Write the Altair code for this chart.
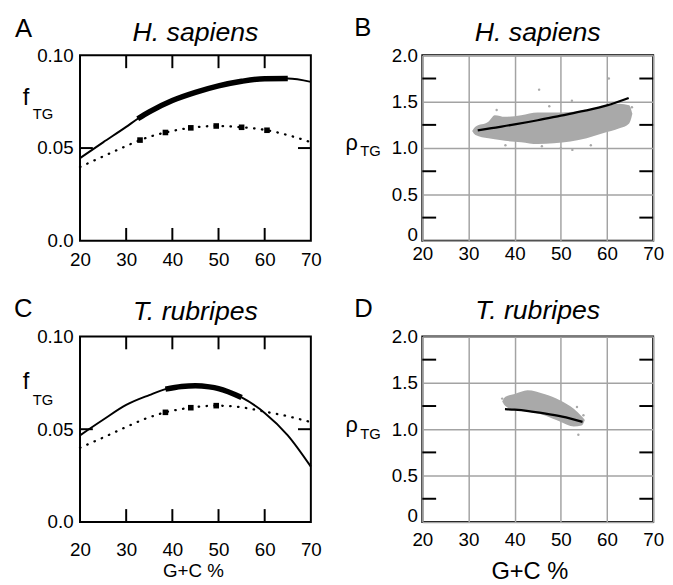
import altair as alt
import pandas as pd

FONT = "Liberation Sans"
W, H = 234, 188

gc_ticks = [20, 30, 40, 50, 60, 70]
f_ticks = [0.0, 0.05, 0.10]
rho_ticks = [0.0, 0.5, 1.0, 1.5, 2.0]
gc_inner_ticks = [30, 40, 50, 60]
f_inner_ticks = [0.05]
rho_minor_ticks = [0.25, 0.75, 1.25, 1.75]

letters = ["A", "B", "C", "D"]
species = ["H. sapiens", "H. sapiens", "T. rubripes", "T. rubripes"]
x_title = "G+C %"

# Panel A (H. sapiens, f_TG)
a_solid_x = [20, 25, 30, 32.5, 35, 40, 45, 50, 55, 60, 65, 70]
a_solid_y = [0.0446, 0.0531, 0.0614, 0.0658, 0.0695, 0.0756, 0.0800, 0.0835, 0.0860, 0.0874, 0.0875, 0.0857]
a_thick = [32.5, 65]
a_dot_x = [20, 25, 30, 33, 38.5, 44, 49.5, 55, 60.5, 65, 70]
a_dot_y = [0.0398, 0.0455, 0.0511, 0.0543, 0.0584, 0.0609, 0.0619, 0.0612, 0.0596, 0.0570, 0.0531]
a_marker_x = [33, 38.5, 44, 49.5, 55, 60.5]

# Panel C (T. rubripes, f_TG)
c_solid_x = [20, 25, 30, 35, 38.5, 42, 45, 48, 50, 55, 60, 65, 70]
c_solid_y = [0.0467, 0.0551, 0.0631, 0.0684, 0.0716, 0.0730, 0.0734, 0.0728, 0.0719, 0.0671, 0.0588, 0.0467, 0.0298]
c_thick = [38.5, 55]
c_dot_x = [20, 25, 30, 34, 38.5, 44, 49.5, 55, 60, 65, 70]
c_dot_y = [0.0400, 0.0455, 0.0512, 0.0555, 0.0591, 0.0616, 0.0627, 0.0618, 0.0595, 0.0570, 0.0538]
c_marker_x = [38.5, 44, 49.5]

# Panel B (H. sapiens, rho_TG)
b_line_x = [32, 35, 40, 45, 50, 55, 60, 64.7]
b_line_y = [1.19, 1.215, 1.255, 1.30, 1.35, 1.40, 1.46, 1.54]
b_cloud_x = [30.8, 31.5, 34.3, 35.7, 37.9, 41.4, 45.0, 48.5, 52.1, 55.6, 59.1, 62.7, 64.8, 65.5]
b_cloud_hi = [1.185, 1.231, 1.284, 1.355, 1.337, 1.355, 1.383, 1.383, 1.390, 1.408, 1.444, 1.479, 1.462, 1.37]
b_cloud_lo = [1.185, 1.142, 1.106, 1.095, 1.078, 1.064, 1.043, 1.053, 1.071, 1.106, 1.160, 1.213, 1.266, 1.37]
b_out_x = [45.3, 60.4, 52.4, 36.1, 47.5, 63.8, 45.9, 50.0, 52.5, 56.5, 65.4, 38.0]
b_out_y = [1.63, 1.75, 1.51, 1.41, 1.45, 1.25, 1.02, 1.00, 0.98, 1.03, 1.44, 1.03]

# Panel D (T. rubripes, rho_TG)
d_line_x = [37.9, 40, 43, 46.4, 50.3, 54.7]
d_line_y = [1.216, 1.21, 1.195, 1.17, 1.135, 1.08]
d_cloud_x = [37.3, 38, 40, 42.8, 46.4, 49.9, 52.8, 54.5, 55.2]
d_cloud_hi = [1.30, 1.35, 1.38, 1.42, 1.38, 1.31, 1.22, 1.14, 1.10]
d_cloud_lo = [1.30, 1.25, 1.205, 1.19, 1.15, 1.08, 1.03, 1.04, 1.10]
d_out_x = [53.8, 54.9, 53.5, 37.3]
d_out_y = [0.94, 1.15, 1.24, 1.33]

GRAY = "#a9a9a9"
GRID = "#a3a3a3"


def label_layer(text, x, y, size, align="left", style="normal"):
    df = pd.DataFrame({"t": [text]})
    return alt.Chart(df).mark_text(
        align=align, baseline="alphabetic", font=FONT, fontSize=size,
        fontStyle=style, color="black"
    ).encode(x=alt.value(x), y=alt.value(y), text="t:N")


def xaxis(pad, grid):
    return alt.Axis(values=gc_ticks, title=None, ticks=False, domain=False, grid=grid,
                    gridColor=GRID, gridWidth=1.5, gridOpacity=1,
                    labelFont=FONT, labelFontSize=19, labelColor="black",
                    labelPadding=pad, labelFlush=False)


def xs(axis):
    return alt.X("gc:Q", scale=alt.Scale(domain=[20, 70], nice=False, zero=False), axis=axis)


def tick_rules(values, field, ys, xaxis_obj=None, length=13):
    df = pd.DataFrame({field: values})
    out = []
    if field == "gc":
        for (a, b) in [(0, length), (H - length, H)]:
            out.append(alt.Chart(df).mark_rule(color="black", strokeWidth=2).encode(
                x=xs(xaxis_obj), y=alt.value(a), y2=alt.value(b)))
    else:
        for (a, b) in [(0, length), (W - length, W)]:
            out.append(alt.Chart(df).mark_rule(color="black", strokeWidth=2).encode(
                y=ys, x=alt.value(a), x2=alt.value(b)))
    return out


def f_panel(idx, sx, sy, thick, dx, dy, mx, xpad, letter_xy, title_y, f_pos, sub_pos,
            with_title=False, title_off=60):
    yaxis = alt.Axis(values=f_ticks, title=None, ticks=False, domain=False, grid=False,
                     labelFont=FONT, labelFontSize=19, labelColor="black", labelPadding=7,
                     labelExpr="datum.value === 0 ? '0.0' : format(datum.value, '.2f')")
    xa = xaxis(xpad, False)
    ysc = alt.Scale(domain=[0, 0.1], nice=False, zero=False)
    Y = alt.Y("v:Q", scale=ysc, axis=yaxis)
    solid = pd.DataFrame({"gc": sx, "v": sy})
    thick_df = solid[(solid.gc >= thick[0]) & (solid.gc <= thick[1])]
    dots = pd.DataFrame({"gc": dx, "v": dy})
    marks = dots[dots.gc.isin(mx)]
    layers = [
        alt.Chart(dots).mark_line(color="black", strokeWidth=2.3, strokeDash=[0.5, 7.5],
                                  interpolate="monotone", strokeCap="round").encode(x=xs(xa), y=Y),
        alt.Chart(marks).mark_point(shape="square", filled=True, size=32, color="black",
                                    opacity=1).encode(x=xs(xa), y=Y),
        alt.Chart(solid).mark_line(color="black", strokeWidth=2,
                                   interpolate="monotone").encode(x=xs(xa), y=Y),
        alt.Chart(thick_df).mark_line(color="black", strokeWidth=5.5, strokeCap="butt",
                                      interpolate="monotone").encode(x=xs(xa), y=Y),
    ]
    layers += tick_rules(gc_inner_ticks, "gc", Y, xaxis_obj=xa)
    layers += tick_rules(f_inner_ticks, "v", Y)
    layers += [
        label_layer(letters[idx], letter_xy[0], letter_xy[1], 26),
        label_layer(species[idx], W / 2, title_y, 27, align="center", style="italic"),
        label_layer("f", f_pos[0], f_pos[1], 24),
        label_layer("TG", sub_pos[0], sub_pos[1], 15),
    ]
    if with_title:
        layers.append(label_layer(x_title, W / 2 - 2, H + title_off, 19, align="center"))
    return alt.layer(*layers).properties(width=W, height=H)


def rho_panel(idx, lx, ly, cx, chi, clo, ox, oy, xpad, letter_xy, title_y, r_pos, sub_pos,
              with_title=False, title_size=19, title_dx=0, title_off=60):
    yaxis = alt.Axis(values=rho_ticks, title=None, ticks=False, domain=False, grid=True,
                     gridColor=GRID, gridWidth=1.5, gridOpacity=1,
                     labelFont=FONT, labelFontSize=19, labelColor="black", labelPadding=5,
                     labelBaseline={"condition": {"test": "datum.value === 0", "value": "alphabetic"},
                                    "value": "middle"},
                     labelExpr="datum.value === 0 ? '0' : format(datum.value, '.1f')")
    xa = xaxis(xpad, True)
    ysc = alt.Scale(domain=[0, 2], nice=False, zero=False)
    Y = alt.Y("v:Q", scale=ysc, axis=yaxis)
    cloud = pd.DataFrame({"gc": cx, "v": chi, "v2": clo})
    outl = pd.DataFrame({"gc": ox, "v": oy})
    line = pd.DataFrame({"gc": lx, "v": ly})
    layers = [
        alt.Chart(cloud).mark_area(color=GRAY, opacity=1, interpolate="monotone").encode(
            x=xs(xa), y=Y, y2=alt.Y2("v2:Q")),
        alt.Chart(outl).mark_circle(color=GRAY, size=6, opacity=1).encode(x=xs(xa), y=Y),
        alt.Chart(line).mark_line(color="black", strokeWidth=2.3,
                                  interpolate="monotone").encode(x=xs(xa), y=Y),
    ]
    layers += tick_rules(rho_minor_ticks, "v", Y, length=14)
    layers += [
        label_layer(letters[idx], letter_xy[0], letter_xy[1], 26),
        label_layer(species[idx], W / 2, title_y, 27, align="center", style="italic"),
        label_layer("ρ", r_pos[0], r_pos[1], 22),
        label_layer("TG", sub_pos[0], sub_pos[1], 15),
    ]
    if with_title:
        layers.append(label_layer(x_title, W / 2 + title_dx, H + title_off, title_size,
                                  align="center"))
    return alt.layer(*layers).properties(width=W, height=H)


pA = f_panel(0, a_solid_x, a_solid_y, a_thick, a_dot_x, a_dot_y, a_marker_x, 10.5,
             (-66, -19), -15, (-58, 50), (-48, 65))
pC = f_panel(2, c_solid_x, c_solid_y, c_thick, c_dot_x, c_dot_y, c_marker_x, 19,
             (-67, -20), -16.5, (-58, 53), (-48, 69), with_title=True, title_off=56)
pB = rho_panel(1, b_line_x, b_line_y, b_cloud_x, b_cloud_hi, b_cloud_lo, b_out_x, b_out_y, 3.5,
               (-69, -20), -15, (-78, 96), (-63, 102))
pD = rho_panel(3, d_line_x, d_line_y, d_cloud_x, d_cloud_hi, d_cloud_lo, d_out_x, d_out_y, 9,
               (-69, -20), -17.5, (-78, 97), (-63, 104), with_title=True, title_size=24,
               title_dx=-8, title_off=58)

chart = alt.concat(pA, pB, pC, pD, columns=2, spacing={"row": 97, "column": 113},
                   bounds="flush").properties(
    padding={"left": 5, "top": 2, "right": 0, "bottom": 0},
    background="white"
).configure_view(stroke="black", strokeWidth=2)

chart.save("out.html", embed_options={"renderer": "svg", "actions": False})
